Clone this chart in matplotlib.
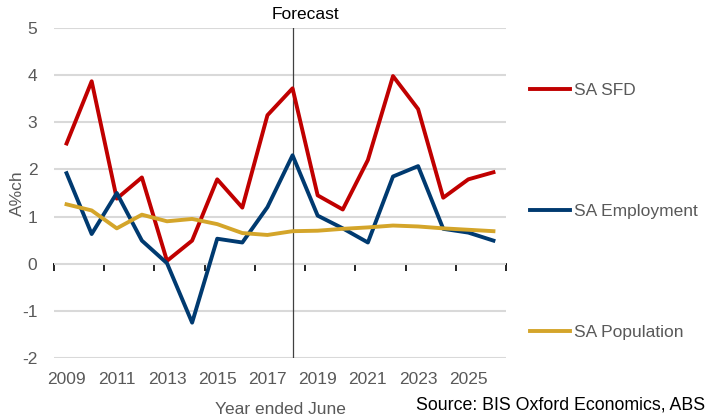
import numpy as np
import matplotlib
matplotlib.use("Agg")
import matplotlib.pyplot as plt

plt.rcParams['font.family'] = ['Liberation Sans', 'DejaVu Sans']
plt.rcParams['axes.unicode_minus'] = False

years = np.arange(2009, 2027)
sfd = [2.55, 3.87, 1.38, 1.83, 0.06, 0.49, 1.79, 1.19, 3.15, 3.72,
       1.45, 1.15, 2.20, 3.98, 3.28, 1.40, 1.79, 1.94]
employment = [1.92, 0.63, 1.50, 0.49, 0.01, -1.25, 0.53, 0.45, 1.20, 2.30,
              1.02, 0.75, 0.45, 1.85, 2.07, 0.74, 0.66, 0.49]
population = [1.26, 1.13, 0.75, 1.04, 0.90, 0.95, 0.84, 0.65, 0.61, 0.69,
              0.70, 0.74, 0.77, 0.81, 0.79, 0.75, 0.72, 0.69]
tick_years = np.arange(2009, 2026, 2)
forecast_year = 2018

grey = '#595959'

fig = plt.figure(figsize=(7.08, 4.19), dpi=100)
ax = fig.add_axes([54/708, 1-358/419, (506-54)/708, (358-28)/419])

ax.set_xlim(2008.5, 2026.5)
ax.set_ylim(-2, 5)
ax.set_yticks(range(-2, 6))
ax.yaxis.grid(True, color='#d9d9d9', lw=1.5)
ax.set_axisbelow(True)
for s in ax.spines.values():
    s.set_visible(False)
ax.tick_params(axis='y', length=0, pad=12, labelsize=12.5, labelcolor=grey)
ax.set_xticks(tick_years)
ax.tick_params(axis='x', length=0, pad=10, labelsize=12.5, labelcolor=grey)

# zero line with tick marks between categories
zero = ax.secondary_xaxis(2/7)
zero.set_xticks(np.arange(2008.5, 2027, 2))
zero.tick_params(length=5, width=1.2, color='black', labelbottom=False)
zero.spines['bottom'].set_color('black')
zero.spines['bottom'].set_linewidth(1.3)

ax.axvline(forecast_year, color='#404040', lw=0.9)
ax.text(forecast_year + 0.5, 5.12, 'Forecast', ha='center', va='bottom', fontsize=12.5)

ax.plot(years, sfd, color='#c00000', lw=2.8, label='SA SFD')
ax.plot(years, employment, color='#003a70', lw=2.8, label='SA Employment')
ax.plot(years, population, color='#d4a52a', lw=2.8, label='SA Population')

ax.set_ylabel('A%ch', fontsize=12.5, color=grey)
ax.yaxis.set_label_coords(-0.064, 0.5)
ax.set_xlabel('Year ended June', fontsize=12.5, color=grey, labelpad=11)

fig.legend(loc='upper left', bbox_to_anchor=(530/708, 1-83/419), frameon=False,
           fontsize=12.5, labelspacing=6.1, handlelength=2.3, handletextpad=0.25,
           borderpad=0, borderaxespad=0, labelcolor=grey)

fig.text(0.996, 0.012, 'Source: BIS Oxford Economics, ABS', ha='right', va='bottom',
         fontsize=12.8, color='black')

fig.savefig('out.png', dpi=100)
